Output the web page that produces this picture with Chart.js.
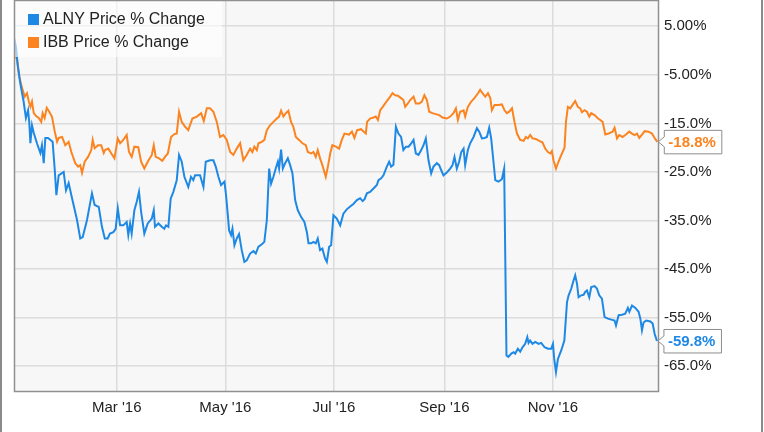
<!DOCTYPE html>
<html>
<head>
<meta charset="utf-8">
<script src="https://cdn.jsdelivr.net/npm/chart.js@4/dist/chart.umd.min.js"></script>
<style>
  html, body { margin: 0; padding: 0; background: #ffffff; }
  #wrap { position: relative; width: 764px; height: 432px; }
  canvas { display: block; }
</style>
</head>
<body>
<div id="wrap"><canvas id="c" width="764" height="432"></canvas></div>
<script>
// ---- Data (day of year 2016, Jan 1 = 0) ----
const alnyDays = [2.3,2.8,3.4,4.5,5.8,7.7,9.0,10.2,10.9,11.5,12.4,13.4,15.2,17.1,18.0,19.0,19.9,21.4,24.0,25.2,26.1,27.4,30.2,31.5,33.0,34.9,37.7,39.5,40.9,43.3,46.1,47.6,49.9,51.7,53.3,
  54.9,56.2,58.1,59.4,60.6,61.9,63.7,65.6,66.5,67.5,68.4,69.9,71.2,72.5,73.7,75.5,77.4,79.7,80.8,81.5,83.4,85.3,86.7,87.7,89.0,90.3,91.8,93.7,95.0,96.5,98.0,100.2,101.7,103.0,104.0,106.8,108.7,110.0,112.4,114.3,115.6,117.1,118.6,120.5,
  121.4,122.4,123.1,124.2,125.0,126.1,127.4,128.7,130.2,131.7,133.0,134.9,136.8,138.1,139.6,141.5,142.9,144.3,145.6,146.7,148.0,149.3,150.5,151.2,152.3,153.3,154.6,156.1,157.4,158.7,160.2,161.7,163.6,165.4,166.8,167.7,169.2,170.5,171.8,172.9,174.2,175.5,177.0,178.0,179.3,180.4,181.7,183.6,185.5,187.3,189.2,191.1,192.9,194.9,196.7,198.1,199.2,
  200.5,202.3,204.2,206.1,207.0,208.5,209.8,211.7,213.0,214.1,215.4,216.8,218.2,219.7,221.0,222.4,223.9,225.4,226.7,228.0,229.5,231.0,232.3,233.6,235.1,236.6,237.9,239.8,241.1,242.2,243.5,245.4,247.3,248.6,249.7,251.0,252.3,253.5,254.8,255.7,257.2,258.5,260.4,262.3,263.6,265.1,266.6,267.9,269.2,270.3,271.6,272.6,274.4,276.3,277.6,
  278.9,280.0,281.6,282.9,283.8,285.3,286.6,287.9,289.4,290.6,291.3,292.2,293.5,295.1,296.9,298.4,300.3,302.2,304.0,305.0,305.7,306.7,307.8,309.7,311.4,312.9,313.8,315.3,316.6,317.5,318.5,319.4,320.9,322.2,323.1,324.1,325.4,326.5,328.4,329.7,331.0,332.5,334.0,335.9,337.8,339.6,340.4,341.9,343.8,345.6,347.1,347.9,349.4,351.3,353.1,354.1,355.0,355.9,357.3,359.7,361.0,362.1,363.4];
const alnyValues = [0,1.8,0.8,-3.3,-6.7,-10.5,-13.9,-12.3,-14.9,-19.1,-15.4,-17.0,-19.1,-21.1,-19.5,-23.2,-18.0,-18.0,-18.8,-24.6,-29.8,-25.7,-25.0,-28.8,-27.3,-30.4,-34.9,-38.7,-38.4,-34.9,-29.4,-31.8,-32.2,-36.3,-38.7,
  -38.7,-37.7,-37.4,-36.7,-32.5,-36.0,-36.0,-35.3,-38.0,-35.6,-37.7,-32.9,-31.2,-29.1,-33.2,-37.7,-35.6,-34.6,-32.9,-36.3,-35.6,-36.3,-36.7,-36.0,-36.3,-30.5,-29.1,-26.7,-21.5,-22.9,-26.0,-28.1,-26.0,-26.7,-25.7,-25.7,-28.1,-22.9,-22.6,-22.6,-23.9,-26.0,-27.7,-27.0,
  -29.8,-33.9,-37.0,-38.0,-36.7,-40.1,-38.7,-37.8,-41.1,-43.5,-43.2,-41.8,-41.3,-41.8,-40.4,-39.9,-39.4,-34.9,-24.3,-27.4,-26.0,-24.3,-22.9,-24.3,-20.4,-24.3,-23.2,-22.2,-23.6,-25.3,-30.8,-32.9,-34.3,-35.3,-37.4,-39.7,-39.7,-39.4,-39.7,-38.7,-41.1,-40.8,-42.8,-43.5,-40.4,-40.1,-33.9,-34.6,-36.0,-33.6,-32.7,-32.1,-31.6,-30.8,-30.4,-31.0,-30.6,
  -29.4,-29.1,-28.4,-27.7,-26.7,-26.3,-25.7,-23.9,-22.9,-23.9,-23.5,-15.7,-17.1,-17.8,-20.5,-19.8,-19.8,-19.1,-18.4,-21.2,-21.5,-20.5,-19.5,-18.1,-22.6,-25.3,-23.9,-23.2,-23.6,-24.6,-25.7,-25.1,-24.3,-23.6,-21.9,-24.3,-22.9,-20.9,-20.2,-23.6,-20.5,-19.1,-17.8,-16.0,-16.7,-18.1,-18.0,-17.8,-15.9,-18.1,-22.9,-26.7,-27.0,-26.5,-24.3,
  -62.8,-63.1,-62.4,-62.1,-62.4,-61.4,-62.0,-61.1,-60.4,-59.0,-60.2,-59.7,-60.4,-60.0,-60.4,-60.2,-61.1,-61.4,-61.4,-60.4,-63.5,-66.2,-63.5,-61.7,-59.7,-51.8,-50.4,-49.0,-47.3,-46.3,-48.0,-50.8,-50.4,-50.3,-49.7,-49.4,-50.8,-48.7,-48.5,-49.0,-50.4,-51.1,-54.9,-55.2,-55.4,-55.6,-56.6,-54.5,-54.4,-54.2,-53.0,-53.8,-52.5,-53.0,-53.8,-55.2,-57.6,-56.0,-55.6,-55.8,-56.2,-58.3,-59.8];

const ibbDays = [2.3,4.0,5.3,6.8,8.3,9.6,10.6,11.5,12.4,13.4,14.7,16.2,17.6,18.4,19.5,20.7,22.1,23.6,25.2,26.5,27.4,29.3,31.1,33.0,34.5,36.7,38.3,39.5,40.5,42.0,43.9,45.7,46.5,47.6,49.5,51.3,52.7,
  53.4,55.3,56.8,58.7,60.6,61.9,63.7,65.6,66.9,68.4,69.9,72.1,73.7,75.5,77.4,79.7,80.8,81.9,83.8,85.6,87.1,88.7,90.5,92.4,93.7,95.0,96.5,98.4,100.2,102.5,105.0,107.4,108.9,110.6,112.4,114.3,116.2,118.0,119.9,121.8,123.7,125.5,
  127.4,129.3,131.1,133.0,134.9,136.2,137.3,138.7,139.6,141.5,142.9,144.3,146.1,148.0,149.9,151.2,152.3,153.6,155.0,156.4,157.9,159.2,160.6,162.4,164.3,166.2,167.3,169.2,170.5,171.8,172.9,174.2,175.5,177.4,178.6,179.9,181.1,183.1,184.9,186.4,187.9,
  190.5,192.1,193.5,195.0,197.3,198.6,199.9,200.6,202.3,204.2,205.5,206.7,208.0,209.8,211.7,213.6,214.9,216.4,217.9,219.7,221.0,222.0,223.5,224.8,226.7,228.0,229.9,231.4,232.8,234.2,235.5,237.3,239.2,241.1,243.0,245.4,247.3,249.1,250.5,251.6,252.9,254.8,255.7,257.2,259.1,260.9,262.9,264.1,265.4,267.0,268.5,269.8,270.7,272.2,274.4,276.3,277.8,
  279.1,280.4,282.0,283.4,284.8,286.6,288.5,289.8,290.9,292.2,293.5,295.4,297.3,299.1,300.7,302.2,303.5,304.4,305.3,306.7,308.1,309.7,311.5,312.3,313.4,314.7,316.0,317.5,319.0,320.3,321.3,322.7,324.1,325.4,326.5,328.4,330.3,331.6,332.9,334.4,336.2,338.5,339.6,341.0,342.2,344.1,346.0,347.9,349.4,350.8,352.2,353.5,355.0,356.5,358.7,360.6,362.1,363.6];
const ibbValues = [0,-2.0,-5.4,-7.7,-9.5,-8.8,-10.5,-11.6,-10.5,-12.9,-13.5,-13.9,-14.7,-12.9,-13.9,-11.8,-12.6,-13.6,-16.7,-18.8,-18.0,-17.8,-19.5,-18.8,-20.9,-23.2,-23.9,-23.6,-25.2,-22.9,-21.9,-20.5,-18.4,-20.1,-19.5,-19.5,-21.1,
  -20.5,-20.2,-21.1,-22.2,-18.1,-19.1,-18.4,-17.4,-20.9,-21.9,-19.8,-19.9,-22.9,-24.3,-22.9,-21.5,-19.5,-21.9,-22.2,-22.7,-21.9,-21.2,-17.8,-17.2,-17.1,-12.6,-14.7,-15.7,-16.4,-14.0,-13.6,-12.9,-14.5,-11.9,-11.9,-12.6,-14.7,-17.8,-17.4,-18.4,-20.9,-21.5,
  -20.2,-19.1,-22.6,-21.5,-20.2,-20.9,-19.8,-20.5,-19.1,-18.8,-18.4,-16.4,-15.4,-14.7,-14.0,-13.6,-12.4,-13.6,-12.9,-12.4,-14.7,-15.7,-17.8,-18.4,-19.1,-19.5,-20.9,-21.2,-20.9,-21.9,-20.5,-22.2,-23.6,-26.0,-23.9,-21.2,-19.5,-19.8,-20.2,-18.4,-17.1,
  -17.3,-16.7,-18.0,-16.4,-16.2,-16.7,-17.1,-14.7,-14.0,-13.8,-13.6,-14.3,-12.3,-11.4,-10.4,-9.5,-8.8,-9.2,-9.3,-9.8,-10.2,-11.6,-10.9,-10.2,-9.5,-10.9,-10.9,-10.5,-9.2,-10.2,-12.6,-12.9,-13.1,-13.3,-13.8,-14.0,-13.6,-12.9,-11.9,-14.3,-12.6,-12.3,-13.6,-11.6,-10.5,-9.8,-8.8,-8.1,-8.8,-9.5,-8.8,-9.8,-12.3,-11.2,-11.2,-11.1,-12.3,
  -12.9,-12.6,-11.9,-14.7,-17.1,-18.4,-18.6,-17.8,-18.1,-17.4,-18.1,-18.2,-18.6,-18.9,-20.2,-20.9,-21.2,-20.7,-22.6,-24.3,-22.9,-21.5,-20.0,-14.7,-11.6,-11.9,-11.2,-10.4,-11.6,-11.9,-12.7,-12.3,-12.6,-13.6,-12.9,-13.3,-14.0,-14.3,-14.7,-17.3,-17.1,-16.7,-15.9,-18.1,-17.4,-17.8,-17.3,-16.7,-17.1,-17.4,-17.1,-18.0,-17.3,-16.6,-16.7,-17.1,-18.0,-18.8];

const seriesNames = ["ALNY Price % Change", "IBB Price % Change"];
const xTickDays = [60, 121, 182, 244, 305];
const xTickLabels = ["Mar '16", "May '16", "Jul '16", "Sep '16", "Nov '16"];
const yTickValues = [5, -5, -15, -25, -35, -45, -55, -65];
const yTickLabels = ["5.00%", "-5.00%", "-15.0%", "-25.0%", "-35.0%", "-45.0%", "-55.0%", "-65.0%"];

// ---- Styles ----
const BLUE = '#1e88e5';
const ORANGE = '#fb8420';
const FONT = '"Liberation Sans", Arial, sans-serif';

function toPoints(xs, ys) { return xs.map((x, i) => ({ x: x, y: ys[i] })); }

const framePlugin = {
  id: 'frame',
  beforeDraw(chart) {
    const { ctx, chartArea: a } = chart;
    ctx.save();
    ctx.fillStyle = '#ffffff';
    ctx.fillRect(0, 0, chart.width, chart.height);
    ctx.fillStyle = '#f7f7f7';
    ctx.fillRect(a.left, a.top, a.right - a.left, a.bottom - a.top);
    ctx.restore();
  },
  afterDatasetsDraw(chart) {
    const { ctx, chartArea: a } = chart;
    ctx.save();
    // legend box
    ctx.fillStyle = 'rgba(255,255,255,0.6)';
    ctx.fillRect(a.left + 1, a.top + 1, 207, 56);
    ctx.font = '16px ' + FONT;
    ctx.textBaseline = 'middle';
    ctx.textAlign = 'left';
    chart.data.datasets.forEach((ds, i) => {
      const cy = a.top + 19 + i * 23;
      ctx.fillStyle = ds.borderColor;
      ctx.fillRect(a.left + 14, cy - 5, 11, 11);
      ctx.fillStyle = '#222';
      ctx.fillText(ds.label, a.left + 29, cy + 0.5);
    });
    // plot frame
    ctx.strokeStyle = '#909090';
    ctx.lineWidth = 1.5;
    ctx.strokeRect(a.left + 0.5, a.top + 0.5, a.right - a.left, a.bottom - a.top);
    // outer frame lines
    ctx.strokeStyle = '#8a8a8a';
    ctx.lineWidth = 2;
    ctx.beginPath();
    ctx.moveTo(1, 0); ctx.lineTo(1, chart.height);
    ctx.moveTo(762, 0); ctx.lineTo(762, chart.height);
    ctx.stroke();
    // end value labels
    chart.data.datasets.forEach((ds, i) => {
      const meta = chart.getDatasetMeta(i);
      const pt = meta.data[meta.data.length - 1];
      const val = ds.data[ds.data.length - 1].y;
      const txt = val.toFixed(1) + '%';
      ctx.font = 'bold 15px ' + FONT;
      const tw = ctx.measureText(txt).width;
      const px = pt.x, py = pt.y;
      const bx = px + 7, bw = tw + 10, bh = 24;
      const top = py - bh / 2, bot = py + bh / 2;
      ctx.beginPath();
      ctx.moveTo(bx, top + 0.5);
      ctx.lineTo(bx + bw, top + 0.5);
      ctx.lineTo(bx + bw, bot);
      ctx.lineTo(bx, bot);
      ctx.lineTo(bx, py + 5);
      ctx.lineTo(px + 1, py);
      ctx.lineTo(bx, py - 5);
      ctx.closePath();
      ctx.fillStyle = '#ffffff';
      ctx.fill();
      ctx.strokeStyle = '#8c8c8c';
      ctx.lineWidth = 1;
      ctx.stroke();
      ctx.fillStyle = ds.borderColor;
      ctx.textAlign = 'left';
      ctx.textBaseline = 'middle';
      ctx.fillText(txt, bx + 4, py + 1);
    });
    ctx.restore();
  }
};

new Chart(document.getElementById('c'), {
  type: 'line',
  data: {
    datasets: [
      { label: seriesNames[0], data: toPoints(alnyDays, alnyValues), borderColor: BLUE, backgroundColor: BLUE,
        borderWidth: 2, pointRadius: 0, tension: 0, fill: false },
      { label: seriesNames[1], data: toPoints(ibbDays, ibbValues), borderColor: ORANGE, backgroundColor: ORANGE,
        borderWidth: 2, pointRadius: 0, tension: 0, fill: false }
    ]
  },
  options: {
    responsive: false,
    animation: false,
    devicePixelRatio: 1,
    layout: { padding: { left: 14, top: 0, right: 0, bottom: 0 } },
    plugins: { legend: { display: false }, tooltip: { enabled: false } },
    scales: {
      x: {
        type: 'linear', min: 2.3, max: 364,
        afterBuildTicks(scale) { scale.ticks = xTickDays.map(v => ({ value: v })); },
        afterFit(scale) { scale.height = 41; scale.paddingLeft = 0; scale.paddingRight = 0; },
        grid: { color: '#dcdcdc', lineWidth: 1.5, drawTicks: false },
        border: { display: false },
        ticks: {
          autoSkip: false, maxRotation: 0, padding: 8, color: '#222',
          font: { family: FONT, size: 15 },
          callback(v) { const i = xTickDays.indexOf(v); return i >= 0 ? xTickLabels[i] : ''; }
        }
      },
      y: {
        type: 'linear', position: 'right', min: -70.1, max: 10.4,
        afterBuildTicks(scale) { scale.ticks = yTickValues.map(v => ({ value: v })); },
        afterFit(scale) { scale.width = 106; scale.paddingTop = 0; scale.paddingBottom = 0; },
        grid: { color: '#dcdcdc', lineWidth: 1.5, drawTicks: false },
        border: { display: false },
        ticks: {
          padding: 6, color: '#222',
          font: { family: FONT, size: 15 },
          callback(v) { const i = yTickValues.indexOf(v); return i >= 0 ? yTickLabels[i] : ''; }
        }
      }
    }
  },
  plugins: [framePlugin]
});
</script>
</body>
</html>
